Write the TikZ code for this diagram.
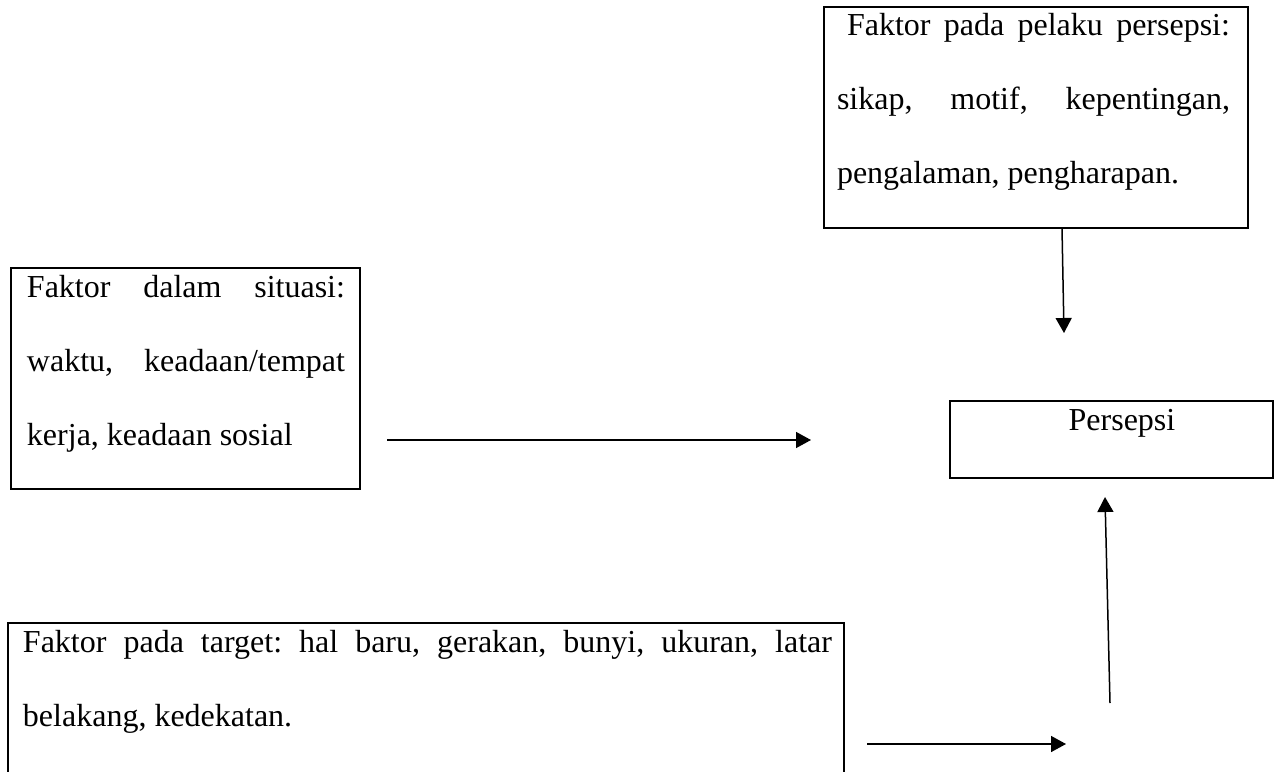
\documentclass[tikz,border=0pt]{standalone}
\usepackage{fontspec}
\setmainfont{Liberation Serif}
\usetikzlibrary{arrows.meta}
\frenchspacing
\begin{document}
\begin{tikzpicture}[x=1pt,y=-1pt,
  frame/.style={draw, line width=2.5pt, rectangle, inner sep=0pt, outer sep=0pt, anchor=north west},
  txt/.style={anchor=base west, inner sep=0pt, outer sep=0pt, align=justify, font=\fontsize{32}{74}\selectfont},
  arr/.style={-{Triangle[length=15pt,width=16pt]}, line width=1.5pt}]
\path[use as bounding box, clip] (0,0) rectangle (1274,771);
\fill[white] (0,0) rectangle (1274,771);

% top box
\node[frame, minimum width=424pt, minimum height=221pt] (pelaku) at (824,7) {};
\node[txt, text width=393pt] (pelakut) at (837,35) {\hspace*{10pt}Faktor pada pelaku persepsi:\linebreak sikap, motif, kepentingan,\linebreak pengalaman, pengharapan.};

% left box
\node[frame, minimum width=349pt, minimum height=221pt] (situasi) at (11,268) {};
\node[txt, text width=318pt] (situasit) at (27,297) {Faktor dalam situasi:\linebreak waktu, keadaan/tempat\linebreak kerja, keadaan sosial};

% persepsi box
\node[frame, minimum width=323pt, minimum height=77pt] (persepsi) at (950,401) {};
\node[anchor=base, inner sep=0pt, font=\fontsize{32}{74}\selectfont] (persepsit) at (1122,430) {Persepsi};

% bottom box
\node[frame, minimum width=836pt, minimum height=190pt] (target) at (8,623) {};
\node[txt, text width=809pt] (targett) at (23,652) {Faktor pada target: hal baru, gerakan, bunyi, ukuran, latar\linebreak belakang, kedekatan.};

% arrows
\coordinate (a1s) at (1062,228);
\coordinate (a1e) at (1064,333);
\coordinate (a2s) at (387,440);
\coordinate (a2e) at (811,440);
\coordinate (a3s) at (1110,703);
\coordinate (a3e) at (1105,497);
\coordinate (a4s) at (867,744);
\coordinate (a4e) at (1066,744);
\draw[arr] (a1s) -- (a1e);
\draw[arr] (a2s) -- (a2e);
\draw[arr] (a3s) -- (a3e);
\draw[arr] (a4s) -- (a4e);
\end{tikzpicture}
\end{document}
